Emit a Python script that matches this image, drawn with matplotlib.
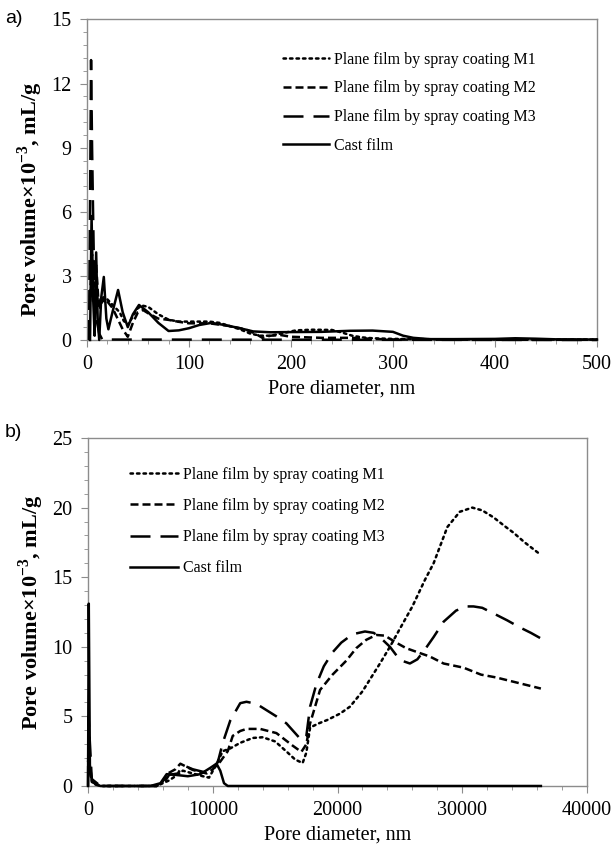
import matplotlib
matplotlib.use("Agg")
import matplotlib.pyplot as plt
from matplotlib.ticker import MultipleLocator

plt.rcParams['font.family'] = ['Liberation Serif', 'DejaVu Serif']
plt.rcParams['mathtext.fontset'] = 'custom'
plt.rcParams['mathtext.rm'] = 'Liberation Serif'
plt.rcParams['mathtext.bf'] = 'Liberation Serif:bold'

labels = ['Plane film by spray coating M1', 'Plane film by spray coating M2',
          'Plane film by spray coating M3', 'Cast film']

# ---- panel a : 0-500 nm ----
a_m1_d = [3, 5, 7, 9, 11, 14, 17, 20, 24, 28, 32, 36, 40, 45, 50, 55, 60, 70, 80, 90,
          100, 120, 130, 140, 150, 160, 170, 180, 190, 205, 220, 240, 250, 260, 270, 280,
          300, 350, 400, 500]
a_m1_v = [1.8, 3.0, 1.8, 2.5, 1.6, 2.0, 1.8, 1.9, 1.7, 1.5, 1.3, 0.9, 0.7, 1.1, 1.5, 1.6,
          1.55, 1.2, 0.95, 0.86, 0.86, 0.86, 0.8, 0.65, 0.5, 0.3, 0.2, 0.2, 0.3, 0.45, 0.48,
          0.47, 0.35, 0.2, 0.12, 0.08, 0.05, 0.03, 0.02, 0.02]

a_m2_d = [3, 5, 7, 9, 11, 13, 16, 20, 25, 30, 35, 40, 45, 50, 55, 60, 70, 80, 90, 100,
          120, 140, 155, 165, 172, 180, 190, 200, 230, 260, 280, 300, 400, 500]
a_m2_v = [2.0, 4.0, 2.5, 3.5, 2.0, 1.5, 2.0, 1.8, 1.5, 1.0, 0.5, 0.15, 0.8, 1.3, 1.4,
          1.25, 1.0, 0.94, 0.85, 0.78, 0.78, 0.65, 0.5, 0.3, 0.1, 0.2, 0.23, 0.15, 0.1,
          0.1, 0.05, 0.02, 0.01, 0.01]

a_m3_d = [2, 3, 4, 5, 6, 7, 8, 10, 12, 15, 500]
a_m3_v = [0, 6.2, 13.1, 9.0, 5.9, 3.0, 1.5, 0.8, 0.3, 0.02, 0.0]

a_cast_d = [3, 4.5, 6, 7.5, 9, 10.5, 12, 14, 16.5, 19, 21, 25, 30.5, 35, 40, 45, 51, 60,
            70, 80, 90, 100, 110, 122, 135, 150, 163, 180, 200, 230, 258, 280, 300, 310,
            320, 336, 360, 400, 420, 440, 460, 500]
a_cast_v = [0, 5.8, 2.0, 0.2, 4.1, 1.0, 0.0, 2.0, 2.95, 1.0, 0.5, 1.3, 2.34, 1.3, 0.6,
            1.2, 1.64, 1.3, 0.8, 0.42, 0.45, 0.55, 0.7, 0.8, 0.7, 0.55, 0.4, 0.36, 0.37,
            0.38, 0.43, 0.44, 0.38, 0.2, 0.1, 0.04, 0.04, 0.05, 0.08, 0.06, 0.03, 0.02]

# ---- panel b : 0-40000 nm ----
b_m1_d = [0, 300, 1000, 5500, 6500, 7000, 7600, 8400, 9200, 9700, 10200, 10800, 11400,
          12200, 13200, 14000, 15000, 16000, 16600, 17200, 17500, 17800, 18500, 19200,
          20200, 21000, 22000, 23400, 24200, 25000, 26000, 27000, 27700, 28800, 29800,
          30800, 31600, 32500, 33500, 34100, 35000, 36300]
b_m1_v = [1.8, 0.3, 0, 0, 0.4, 0.7, 1.1, 0.9, 0.7, 0.6, 1.4, 2.5, 2.7, 3.1, 3.45, 3.5,
          3.2, 2.4, 1.9, 1.65, 2.4, 4.2, 4.5, 4.75, 5.2, 5.7, 6.8, 8.8, 10.0, 11.3, 12.9,
          14.8, 16.0, 18.6, 19.7, 20.0, 19.8, 19.3, 18.6, 18.2, 17.5, 16.6]

b_m2_d = [0, 300, 1000, 5500, 5900, 6400, 7000, 7400, 8400, 9500, 10000, 10600, 11200,
          11600, 12200, 12700, 13800, 15100, 16400, 17100, 17500, 17800, 18600, 19600,
          20700, 21500, 22300, 23100, 23800, 24700, 25500, 26600, 27400, 28500, 30100,
          31500, 32700, 34500, 36300]
b_m2_v = [2.0, 0.3, 0, 0, 0.2, 0.9, 1.2, 1.6, 1.15, 0.9, 1.2, 1.75, 2.5, 3.6, 3.95, 4.1,
          4.1, 3.8, 2.9, 2.45, 3.0, 4.5, 6.9, 8.0, 9.0, 9.9, 10.5, 10.85, 10.8, 10.3,
          9.9, 9.55, 9.3, 8.8, 8.5, 8.0, 7.8, 7.4, 7.0]

b_m3_d = [0, 40, 300, 1000, 5500, 6000, 6500, 7200, 7600, 8400, 9300, 10000, 10400, 10800,
          11400, 12200, 12700, 13500, 14300, 15100, 15900, 16600, 17100, 17500, 17800,
          18300, 18900, 19600, 20300, 21200, 22200, 22900, 23500, 24200, 25000, 25800,
          26400, 27000, 27700, 28500, 29500, 30300, 30900, 31600, 32500, 33600, 34600,
          35500, 36300]
b_m3_v = [0, 5.0, 0.5, 0, 0, 0.1, 0.8, 0.9, 1.5, 1.2, 1.0, 1.3, 1.7, 3.1, 4.7, 5.95, 6.05,
          5.9, 5.45, 5.0, 4.5, 3.8, 3.3, 3.6, 5.7, 7.3, 8.6, 9.6, 10.3, 10.9, 11.1, 11.0,
          10.6, 10.0, 9.05, 8.8, 9.1, 9.8, 10.7, 11.8, 12.6, 12.9, 12.9, 12.8, 12.4,
          11.9, 11.4, 11.0, 10.6]

b_cast_d = [0, 60, 150, 300, 600, 1000, 5000, 5800, 6300, 7000, 8000, 9000, 9800, 10300,
            10600, 10900, 11200, 36300]
b_cast_v = [0, 13.1, 1.5, 0.5, 0.1, 0, 0, 0.2, 0.85, 0.8, 0.7, 0.85, 1.3, 1.6, 1.1, 0.2,
            0, 0]

styles = [dict(ls=(0, (1, 1.6)), lw=1.8, dash_capstyle='round'),
          dict(ls=(0, (3.2, 1.6)), lw=1.8),
          dict(ls=(0, (8, 4)), lw=1.8),
          dict(ls='-', lw=1.8)]

gray = '#8c8c8c'

fig = plt.figure(figsize=(6.16, 8.51), dpi=100)
ax1 = fig.add_axes([0.1412, 0.6005, 0.8278, 0.3766])
ax2 = fig.add_axes([0.1429, 0.0764, 0.8101, 0.4089])


def style_axes(ax, xmax, ymax, xmaj, xmin, ymaj, ymin):
    ax.set_xlim(0, xmax)
    ax.set_ylim(0, ymax)
    ax.xaxis.set_major_locator(MultipleLocator(xmaj))
    ax.xaxis.set_minor_locator(MultipleLocator(xmin))
    ax.yaxis.set_major_locator(MultipleLocator(ymaj))
    ax.yaxis.set_minor_locator(MultipleLocator(ymin))
    for s in ax.spines.values():
        s.set_color(gray)
        s.set_linewidth(1.0)
    ax.tick_params(which='major', direction='out', length=5, color=gray,
                   labelsize=14.5, pad=6)
    ax.tick_params(which='minor', direction='out', length=3, color=gray)
    ax.set_xlabel('Pore diameter, nm', fontsize=14.5, labelpad=4)
    ax.set_ylabel('Pore volume×10$^{\\mathbf{-3}}$, mL/g', fontsize=16,
                  fontweight='bold', labelpad=5)


series_a = [(a_m1_d, a_m1_v), (a_m2_d, a_m2_v), (a_m3_d, a_m3_v), (a_cast_d, a_cast_v)]
for (d, v), st, lab in zip(series_a, styles, labels):
    ax1.plot(d, v, color='black', label=lab, zorder=3, clip_on=False, **st)
style_axes(ax1, 500, 15, 100, 20, 3, 0.6)
ax1.yaxis.label.set_y(0.44)
ax1.legend(loc='upper left', bbox_to_anchor=(0.384, 0.9), frameon=False,
           fontsize=11.5, handlelength=2.9, handletextpad=0.3, labelspacing=0.8,
           borderpad=0, borderaxespad=0)

series_b = [(b_m1_d, b_m1_v), (b_m2_d, b_m2_v), (b_m3_d, b_m3_v), (b_cast_d, b_cast_v)]
for (d, v), st, lab in zip(series_b, styles, labels):
    ax2.plot(d, v, color='black', label=lab, zorder=3, clip_on=False, **st)
style_axes(ax2, 40000, 25, 10000, 2000, 5, 1)
ax2.legend(loc='upper left', bbox_to_anchor=(0.084, 0.917), frameon=False,
           fontsize=11.5, handlelength=3.0, handletextpad=0.3, labelspacing=0.95,
           borderpad=0, borderaxespad=0)

fig.text(0.008, 0.978, 'a)', fontsize=14, family='Liberation Sans', va='center')
fig.text(0.008, 0.492, 'b)', fontsize=14, family='Liberation Sans', va='center')

fig.savefig('out.png', dpi=100)
